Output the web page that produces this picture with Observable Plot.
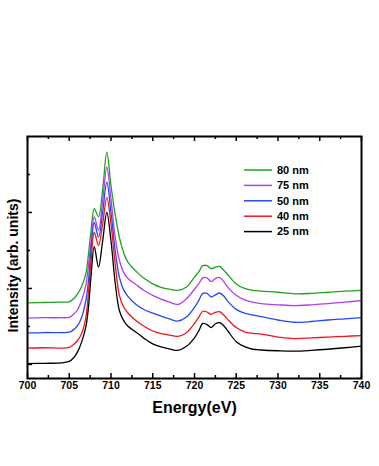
<!DOCTYPE html>
<html>
<head>
<meta charset="utf-8">
<script src="https://cdn.jsdelivr.net/npm/d3@7"></script>
<script src="https://cdn.jsdelivr.net/npm/@observablehq/plot@0.6"></script>
<style>
  html, body { margin: 0; padding: 0; background: #fff; }
  #chart { position: relative; width: 379px; height: 466px; }
</style>
</head>
<body>
<div id="chart"></div>
<script>
// Energy grid (eV)
const energy = [700, 702, 704, 705, 705.5, 706, 706.5, 707, 707.3, 707.6, 708, 708.5, 709, 709.5, 710, 710.5, 711, 711.5, 712, 713, 714, 715, 716, 717, 718, 719, 720, 720.5, 721, 721.5, 722, 722.5, 723, 723.5, 724, 725, 726, 727, 728, 730, 732, 734, 736, 738, 740];

// Intensities (arb. units, offset) per thickness
const s25 = [0.02, 0.03, 0.04, 0.08, 0.17, 0.33, 0.6, 1.0, 1.5, 2.3, 3.1, 2.56, 3.25, 4.0, 3.25, 2.15, 1.42, 1.16, 1.01, 0.85, 0.68, 0.54, 0.46, 0.41, 0.37, 0.47, 0.7, 0.88, 1.08, 1.05, 0.97, 1.07, 1.1, 1.02, 0.88, 0.6, 0.47, 0.4, 0.38, 0.36, 0.35, 0.37, 0.4, 0.44, 0.48];
const s40 = [0.43, 0.44, 0.43, 0.45, 0.52, 0.63, 0.82, 1.25, 1.9, 2.7, 3.48, 3.13, 3.7, 4.40, 3.7, 2.65, 1.82, 1.52, 1.36, 1.15, 1.0, 0.88, 0.81, 0.77, 0.74, 0.83, 1.08, 1.24, 1.4, 1.38, 1.32, 1.37, 1.39, 1.3, 1.18, 0.97, 0.86, 0.82, 0.8, 0.72, 0.68, 0.7, 0.72, 0.74, 0.76];
const s50 = [0.83, 0.84, 0.84, 0.85, 0.91, 1.02, 1.25, 1.7, 2.2, 3.0, 3.74, 3.35, 4.0, 4.80, 4.0, 3.0, 2.3, 1.97, 1.8, 1.58, 1.44, 1.35, 1.27, 1.2, 1.14, 1.24, 1.5, 1.68, 1.87, 1.87, 1.78, 1.83, 1.88, 1.8, 1.66, 1.45, 1.35, 1.3, 1.26, 1.17, 1.11, 1.13, 1.17, 1.2, 1.23];
const s75 = [1.22, 1.23, 1.23, 1.24, 1.32, 1.44, 1.7, 2.1, 2.6, 3.2, 3.89, 3.53, 4.3, 5.19, 4.35, 3.35, 2.75, 2.43, 2.27, 2.1, 1.94, 1.82, 1.72, 1.64, 1.58, 1.72, 1.98, 2.12, 2.28, 2.28, 2.18, 2.26, 2.29, 2.18, 2.03, 1.82, 1.7, 1.64, 1.6, 1.57, 1.55, 1.57, 1.6, 1.64, 1.68];
const s80 = [1.62, 1.63, 1.64, 1.65, 1.72, 1.86, 2.06, 2.4, 2.9, 3.5, 4.10, 3.89, 4.6, 5.59, 4.7, 3.95, 3.35, 2.95, 2.7, 2.45, 2.26, 2.12, 2.03, 1.98, 1.95, 2.03, 2.3, 2.43, 2.6, 2.6, 2.52, 2.56, 2.58, 2.48, 2.36, 2.12, 2.0, 1.95, 1.93, 1.9, 1.86, 1.87, 1.9, 1.93, 1.95];

const seriesNames = ["80 nm", "75 nm", "50 nm", "40 nm", "25 nm"];
const seriesColors = ["#1fa31f", "#b040ee", "#2448f5", "#f0141e", "#000000"];
const seriesValues = [s80, s75, s50, s40, s25];

const xMajorTicks = [700, 705, 710, 715, 720, 725, 730, 735, 740];
const xMinorTicks = [702.5, 707.5, 712.5, 717.5, 722.5, 727.5, 732.5, 737.5];
const yMajorTicks = [0, 2, 4];
const yMinorTicks = [1, 3, 5];

const xLabel = "Energy(eV)";
const yLabel = "Intensity (arb. units)";

const data = [];
seriesNames.forEach((name, i) => {
  energy.forEach((e, j) => data.push({series: name, energy: e, value: seriesValues[i][j]}));
});

const W = 379, H = 466, mT = 136, mB = 88, mL = 27, mR = 18;
const innerH = H - mT - mB, innerW = W - mL - mR;

const chart = Plot.plot({
  width: W, height: H,
  marginTop: mT, marginBottom: mB, marginLeft: mL, marginRight: mR,
  x: {domain: [700, 740]},
  y: {domain: [-0.37, 6], axis: null},
  color: {domain: seriesNames, range: seriesColors},
  style: {fontFamily: "'Liberation Sans', Arial, sans-serif", fontWeight: "bold", background: "#fff", color: "#000"},
  marks: [
    Plot.line(data, {x: "energy", y: "value", z: "series", stroke: "series", strokeWidth: 1.3, curve: "catmull-rom"}),
    // inward ticks bottom
    Plot.tickX(xMajorTicks, {x: d => d, insetTop: innerH - 5, strokeWidth: 1.5}),
    Plot.tickX(xMinorTicks, {x: d => d, insetTop: innerH - 3, strokeWidth: 1.5}),
    // inward ticks top
    Plot.tickX(xMajorTicks, {x: d => d, insetBottom: innerH - 5, strokeWidth: 1.5}),
    Plot.tickX(xMinorTicks, {x: d => d, insetBottom: innerH - 3, strokeWidth: 1.5}),
    // inward ticks left
    Plot.tickY(yMajorTicks, {y: d => d, insetRight: innerW - 5, strokeWidth: 1.5}),
    Plot.tickY(yMinorTicks, {y: d => d, insetRight: innerW - 3, strokeWidth: 1.5}),
    Plot.frame({stroke: "#000", strokeWidth: 2}),
    Plot.axisX(xMajorTicks, {tickSize: 0, tickPadding: 3, fontSize: 10.5, fontWeight: "bold", label: null, tickFormat: d => String(d)}),
    Plot.text([xLabel], {frameAnchor: "bottom", dy: 29, fontSize: 16, fontWeight: "bold", lineAnchor: "middle", textAnchor: "middle"}),
    Plot.text([yLabel], {frameAnchor: "left", dx: -14, dy: 8, rotate: -90, fontSize: 14, fontWeight: "bold", lineAnchor: "middle", textAnchor: "middle"})
  ]
});

// Legend inside plot area (layout only)
const svg = d3.select(chart);
const lg = svg.append("g").attr("transform", `translate(${W - mR - 117}, ${mT + 34})`);
seriesNames.forEach((name, i) => {
  const row = lg.append("g").attr("transform", `translate(0, ${i * 15.4})`);
  row.append("line").attr("x1", 0).attr("x2", 28).attr("y1", 0).attr("y2", 0)
    .attr("stroke", seriesColors[i]).attr("stroke-width", 1.5);
  row.append("text").attr("x", 33).attr("y", 0).attr("dy", "0.35em")
    .attr("text-anchor", "start")
    .attr("font-size", 11).attr("font-weight", "bold").attr("fill", "#000")
    .attr("font-family", "'Liberation Sans', Arial, sans-serif").text(name);
});

document.getElementById("chart").appendChild(chart);
</script>
</body>
</html>
